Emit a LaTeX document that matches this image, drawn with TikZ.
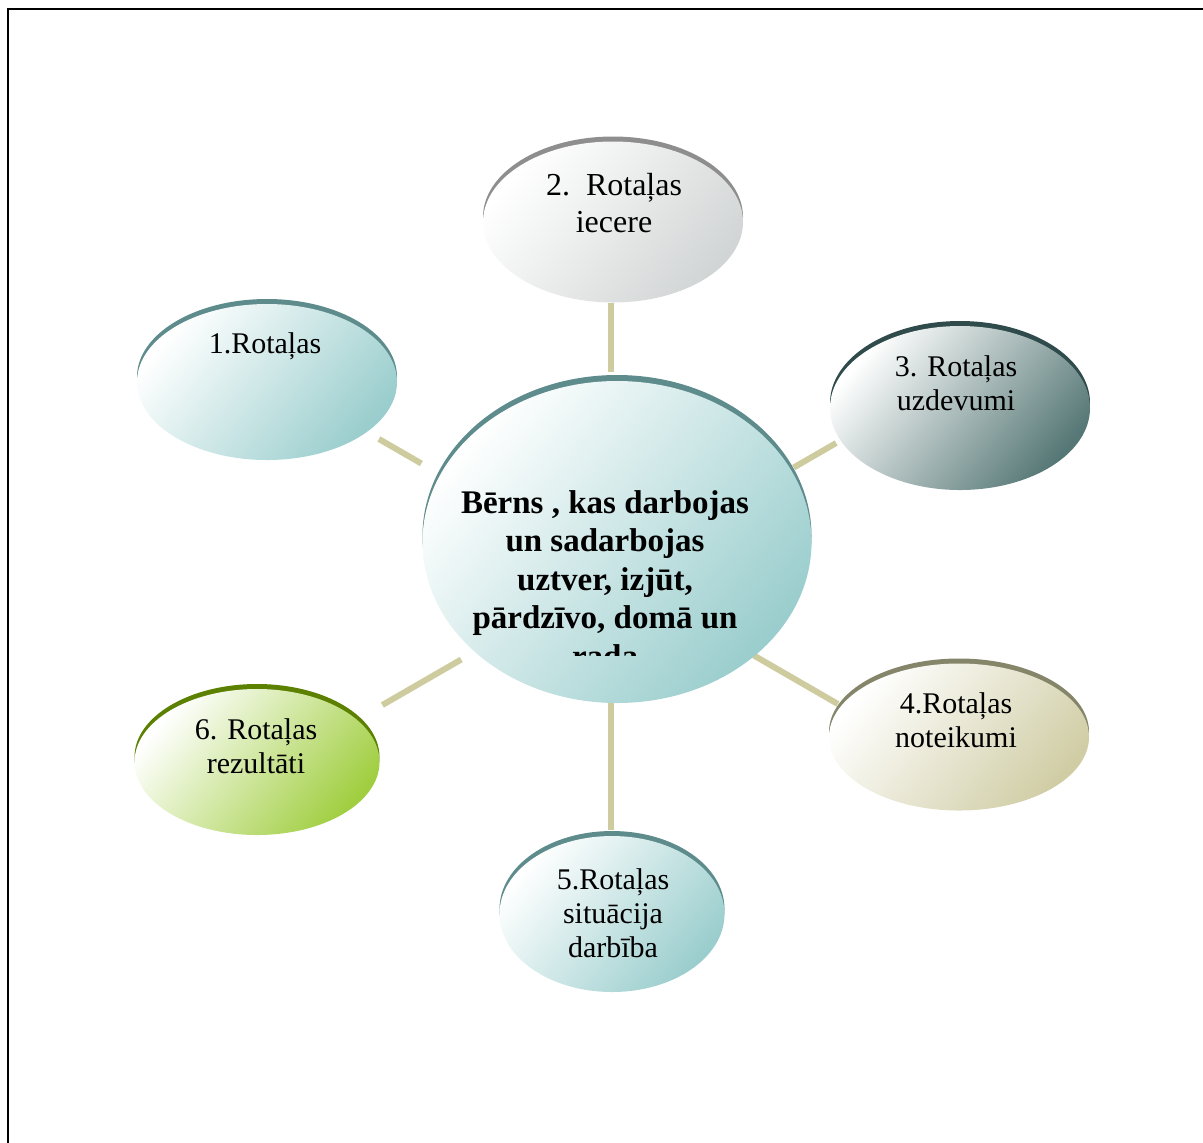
\documentclass[tikz,border=0pt]{standalone}
\usepackage{fontspec}
\setmainfont{Liberation Serif}
\usetikzlibrary{shapes.geometric,calc}

\definecolor{tealrim}{HTML}{5E8B8C}
\definecolor{tealfill}{HTML}{9ACDCD}
\definecolor{greyrim}{HTML}{8E8E8E}
\definecolor{greyfill}{HTML}{D2D5D5}
\definecolor{slaterim}{HTML}{2F4B4B}
\definecolor{slatefill}{HTML}{557775}
\definecolor{khakirim}{HTML}{85856A}
\definecolor{khakifill}{HTML}{D0CDA5}
\definecolor{greenrim}{HTML}{5C8000}
\definecolor{greenfill}{HTML}{A0CE40}
\definecolor{spokecol}{HTML}{CECB9E}

\tikzset{
  bubble/.style={ellipse, inner sep=0pt, draw=none},
  rimof/.style={bubble, fill=#1},
  shadeto/.style={bubble, top color=white, middle color=#1!10!white, bottom color=#1, shading angle=50},
  spoke/.style={draw=spokecol, line width=3pt},
  lbl/.style={font=\fontsize{15}{17}\selectfont, align=center, inner sep=0pt, anchor=base},
  corelbl/.style={font=\fontsize{16.5}{19.25}\selectfont\bfseries, align=center, inner sep=0pt, anchor=base},
}

\begin{document}
\begin{tikzpicture}[x=0.5pt,y=-0.5pt]
  \useasboundingbox (0,0) rectangle (1203,1142);
  \clip (0,0) rectangle (1203,1142);
  \draw[line width=1pt] (8,9) rectangle (1240,1180); % page frame

  \coordinate (hub) at (611,573);

  % spokes (y axis points down)
  \foreach \ang/\rin/\rout [count=\i] in {-90/201/270, -30/211/260, 30/165/262, 90/130/257, 150/173/264, 210/219/268}{
    \coordinate (sa\i) at ($(hub)+(\ang:\rin)$);
    \coordinate (sb\i) at ($(hub)+(\ang:\rout)$);
    \draw[spoke] (sa\i) -- (sb\i);
  }

  % centre (anchor base = last line)
  \node[rimof=tealrim, minimum width=194.5pt, minimum height=161pt] (corerim) at (617,536) {};
  \node[shadeto=tealfill, minimum width=194.5pt, minimum height=161pt] (core) at (617,542) {};
  \begin{scope}
    \clip (0,0) rectangle (1203,655);
    \node[corelbl] (coretext) at (605,667) {Bērns , kas darbojas\\un sadarbojas\\uztver, izjūt,\\pārdzīvo, domā un\\rada};
  \end{scope}

  % satellites
  \node[rimof=tealrim, minimum width=130pt, minimum height=78pt] (e1rim) at (267,377) {};
  \node[shadeto=tealfill, minimum width=130pt, minimum height=78pt] (e1) at (267,382) {};
  \node[lbl] (t1) at (265,353) {1.Rotaļas};

  \node[rimof=greyrim, minimum width=130pt, minimum height=80.5pt] (e2rim) at (613,217) {};
  \node[shadeto=greyfill, minimum width=130pt, minimum height=80.5pt] (e2) at (613,222) {};
  \node[lbl, font=\fontsize{16}{18.5}\selectfont] (t2) at (614,232) {2.\ \ Rotaļas\\iecere};

  \node[rimof=slaterim, minimum width=130pt, minimum height=82pt] (e3rim) at (960,403) {};
  \node[shadeto=slatefill, minimum width=130pt, minimum height=82pt] (e3) at (960,408) {};
  \node[lbl] (t3) at (956,410) {3. Rotaļas\\uzdevumi};

  \node[rimof=khakirim, minimum width=130pt, minimum height=73.5pt] (e4rim) at (959,732) {};
  \node[shadeto=khakifill, minimum width=130pt, minimum height=73.5pt] (e4) at (959,737) {};
  \node[lbl] (t4) at (956,747) {4.Rotaļas\\noteikumi};

  \node[rimof=tealrim, minimum width=112.5pt, minimum height=78pt] (e5rim) at (612,909) {};
  \node[shadeto=tealfill, minimum width=112.5pt, minimum height=78pt] (e5) at (612,914) {};
  \node[lbl] (t5) at (613,957) {5.Rotaļas\\situācija\\darbība};

  \node[rimof=greenrim, minimum width=122.5pt, minimum height=73pt] (e6rim) at (257,757) {};
  \node[shadeto=greenfill, minimum width=122.5pt, minimum height=73pt] (e6) at (257,762) {};
  \node[lbl] (t6) at (256,773) {6. Rotaļas\\rezultāti};
\end{tikzpicture}
\end{document}
